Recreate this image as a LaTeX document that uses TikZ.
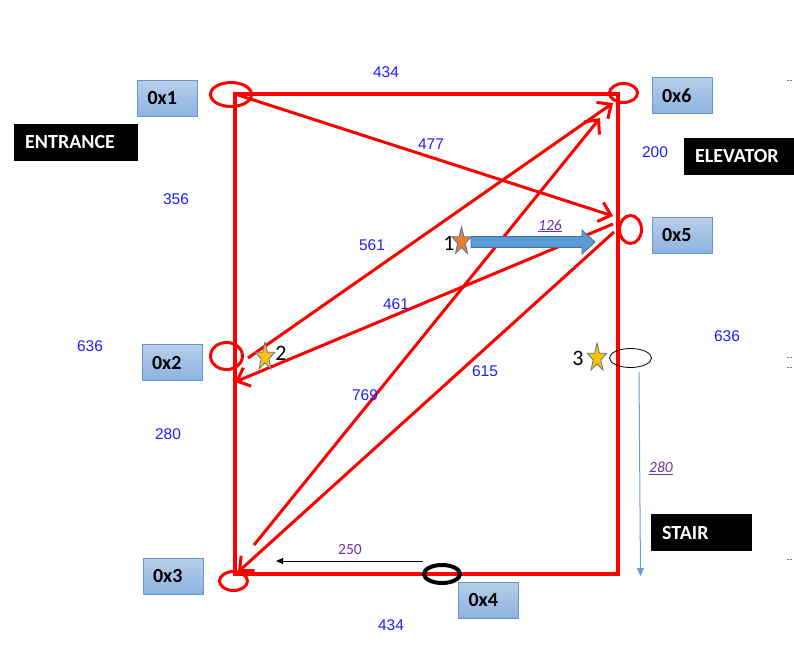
\documentclass[tikz,border=0pt]{standalone}
\usepackage{fontspec}
\setmainfont{Carlito}
\newfontfamily\arialf{Liberation Sans}
\usetikzlibrary{shapes.geometric,arrows.meta}
\definecolor{numblue}{RGB}{30,30,255}
\definecolor{purp}{RGB}{112,48,160}
\definecolor{boxtop}{RGB}{184,206,234}
\definecolor{boxbot}{RGB}{140,178,224}
\definecolor{boxedge}{RGB}{100,150,210}
\definecolor{arrowblue}{RGB}{91,155,213}
\definecolor{arrowedge}{RGB}{65,113,156}
\definecolor{starorange}{RGB}{237,125,49}
\definecolor{staryellow}{RGB}{255,192,0}
\definecolor{starsblue}{RGB}{80,120,170}
\definecolor{stairblue}{RGB}{100,160,215}
\newcommand{\drawmystar}[3]{%
  \draw[draw=starsblue, fill=#3, line width=0.8pt, shift={(#1,#2)}, xscale=0.68, yscale=-1]
    (90:15) -- (126:6) -- (162:15) -- (198:6) -- (234:15) -- (270:6) -- (306:15) -- (342:6) -- (18:15) -- (54:6) -- cycle;}
\tikzset{
  redline/.style={draw=red, line width=3.2pt},
  redarr/.style={red, line width=3pt, -{Straight Barb[length=11pt,width=20pt]}},
  redell/.style={ellipse, draw=red, line width=3pt, inner sep=0pt},
  idbox/.style={draw=boxedge, line width=0.8pt, top color=boxtop, bottom color=boxbot,
    minimum height=36pt, text width=40pt, inner xsep=10pt, inner ysep=0pt, align=left,
    font=\fontsize{20}{24}\selectfont\bfseries},
  blackbox/.style={fill=black, text=white, minimum height=37pt, inner xsep=11pt, inner ysep=0pt,
    align=left, font=\fontsize{20}{24}\selectfont\bfseries},
  num/.style={text=numblue, font=\arialf\fontsize{15.5}{18}\selectfont, inner sep=0pt},
  pnum/.style={text=purp, font=\fontsize{15.5}{18}\selectfont, inner sep=0pt},
  starlbl/.style={font=\fontsize{22}{26}\selectfont, inner sep=0pt},
  artdash/.style={draw=gray, line width=0.6pt, dash pattern=on 1.5pt off 1.5pt},
}
\begin{document}
\begin{tikzpicture}[x=1pt,y=-1pt]
\useasboundingbox (0,0) rectangle (794,657);

% room outline
\coordinate (c1) at (235,94);
\coordinate (c6) at (618,94);
\coordinate (c4) at (618,574);
\coordinate (c3) at (235,574);
\draw[redline] (c1) -- (c6) -- (c4) -- (c3) -- cycle;

% ellipses
\node[redell, minimum width=41pt, minimum height=24pt] (e1) at (231,94.5) {};
\node[redell, minimum width=28pt, minimum height=19pt] (e6) at (623.5,93) {};
\node[redell, minimum width=22pt, minimum height=28pt] (e5) at (630.5,229.5) {};
\node[redell, minimum width=32pt, minimum height=27pt] (e2) at (226.5,356) {};
\node[redell, minimum width=28pt, minimum height=19pt] (e3) at (233.5,581) {};
\node[ellipse, draw=black, line width=4pt, inner sep=0pt, minimum width=36pt, minimum height=18pt] (e4) at (442,574) {};
\node[ellipse, draw=black, line width=0.8pt, inner sep=0pt, minimum width=42pt, minimum height=19pt] (es) at (630.5,358) {};

% arrow end points
\coordinate (p477a) at (238,95);
\coordinate (p477b) at (613,216);
\coordinate (p561a) at (248,358);
\coordinate (p561b) at (613,103);
\coordinate (p461a) at (613,224);
\coordinate (p461b) at (235,382);
\coordinate (p769a) at (254,545);
\coordinate (p769b) at (600,118);
\coordinate (p615a) at (614,232);
\coordinate (p615b) at (238,572);

\draw[redarr] (p477a) -- (p477b);
\draw[redarr] (p561a) -- (p561b);
\draw[redarr] (p461a) -- (p461b);
\draw[redarr] (p769a) -- (p769b);
\draw[redarr] (p615a) -- (p615b);

% id boxes
\node[idbox] (b1) at (167.5,98.5) {0x1};
\node[idbox] (b6) at (682,95.5) {0x6};
\node[idbox] (b5) at (682,235) {0x5};
\node[idbox] (b2) at (172,362.5) {0x2};
\node[idbox] (b3) at (173,576) {0x3};
\node[idbox] (b4) at (488.5,600) {0x4};

% black labels
\node[blackbox, text width=102pt, anchor=west] (ent) at (14,142.5) {ENTRANCE};
\node[blackbox, text width=102pt, anchor=west] (elev) at (684,156.5) {ELEVATOR};
\node[blackbox, text width=79pt, anchor=west] (stair) at (651,532.5) {STAIR};

% distances
\node[num] (d434t) at (386,72) {434};
\node[num] (d477) at (431,144) {477};
\node[num] (d356) at (176,199) {356};
\node[num] (d200) at (655,152) {200};
\node[num] (d561) at (372,245) {561};
\node[num] (d461) at (396,304) {461};
\node[num] (d615) at (485,371) {615};
\node[num] (d769) at (365,395) {769};
\node[num] (d636l) at (90,346) {636};
\node[num] (d280l) at (168,434) {280};
\node[num] (d636r) at (727,336) {636};
\node[num] (d434b) at (391,625) {434};

% block arrow from star 1
\path[fill=arrowblue, draw=arrowedge, line width=0.8pt]
  (471,236.5) -- (582,236.5) -- (582,230) -- (595,242) -- (582,254) -- (582,247.5) -- (471,247.5) -- cycle;
\node[pnum] (d126) at (550,226) {\underline{\itshape 126}};

% stars
\drawmystar{461.5}{241.5}{starorange}
\drawmystar{265}{357}{staryellow}
\drawmystar{597}{358}{staryellow}
\node[starlbl] (s1) at (449,243) {1};
\node[starlbl] (s2) at (281,353) {2};
\node[starlbl] (s3) at (578,358) {3};

% stair arrow
\coordinate (sa) at (639,372);
\coordinate (sb) at (640.5,576);
\draw[stairblue, line width=1pt, -{Triangle[length=8pt,width=7pt]}] (sa) -- (sb);
\node[pnum] (d280r) at (661,468) {\underline{\itshape 280}};

% 250 arrow
\coordinate (ta) at (423,561);
\coordinate (tb) at (276,561);
\draw[black, line width=0.8pt, -{Triangle[length=7pt,width=6pt]}] (ta) -- (tb);
\node[pnum] (d250) at (350,550) {250};

% edge artefacts
\draw[artdash] (787,80) -- (793,80);
\draw[artdash] (787,357) -- (793,357);
\draw[artdash] (787,367) -- (793,367);
\draw[artdash] (787,559) -- (793,559);
\end{tikzpicture}
\end{document}
